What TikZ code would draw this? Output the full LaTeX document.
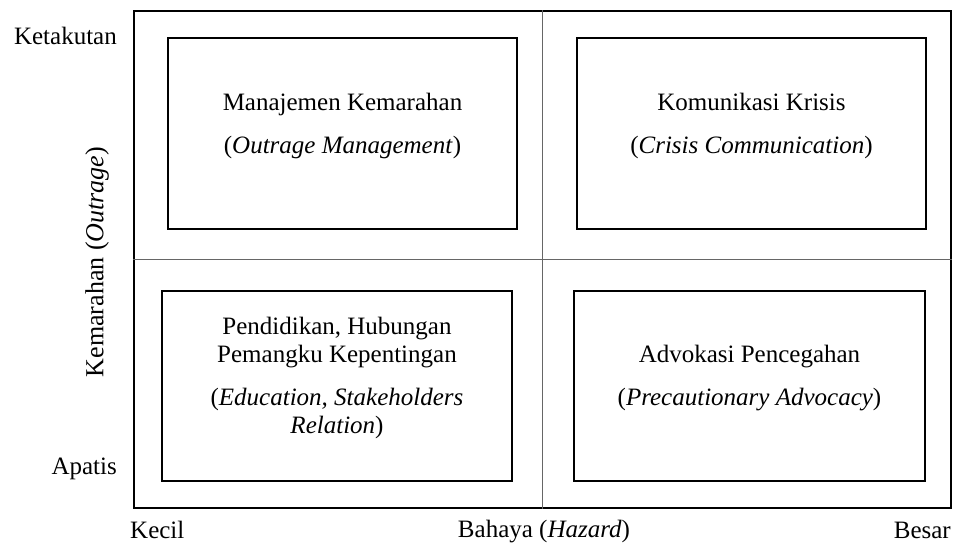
\documentclass[tikz,border=0pt]{standalone}
\usepackage{fontspec}
\setmainfont{Liberation Serif}

\begin{document}
\begin{tikzpicture}[x=1pt, y=-1pt,
      every node/.style = {inner sep=0pt, font=\fontsize{25}{28}\selectfont},
      frame/.style = {draw, line width=1.8pt},
      quad/.style = {draw, line width=1.8pt},
      quadtext/.style = {align=center, yshift=8pt},
      divider/.style = {draw=black!60, line width=0.9pt}]
    \useasboundingbox (0,0) rectangle (954,544);
    \node[frame, minimum width=817pt, minimum height=497pt] (frame) at (542.5,259.5) {};
    \draw[divider] (frame.north) -- (frame.south);
    \draw[divider] (frame.west) -- (frame.east);
    \node[quad, minimum width=349pt, minimum height=191pt] (manage) at (342.5,133.5) {};
    \node[quad, minimum width=349pt, minimum height=191pt] (crisis) at (751.5,133.5) {};
    \node[quad, minimum width=350pt, minimum height=190pt] (educate) at (337,386) {};
    \node[quad, minimum width=351pt, minimum height=190pt] (advocate) at (749.5,386) {};
    \node[quadtext] (managetxt) at (manage.center)
      {Manajemen Kemarahan\\[15pt](\textit{Outrage Management})};
    \node[quadtext] (crisistxt) at (crisis.center)
      {Komunikasi Krisis\\[15pt](\textit{Crisis Communication})};
    \node[quadtext] (educatetxt) at (educate.center)
      {Pendidikan, Hubungan\\Pemangku Kepentingan\\[15pt](\textit{Education, Stakeholders}\\\textit{Relation})};
    \node[quadtext] (advocatetxt) at (advocate.center)
      {Advokasi Pencegahan\\[15pt](\textit{Precautionary Advocacy})};
    \node[anchor=base east] (fear) at (117,44) {Ketakutan};
    \node[anchor=base east] (apathy) at (117,474) {Apatis};
    \node[rotate=90, font=\fontsize{26}{29}\selectfont] (outrage) at (97,262) {Kemarahan (\textit{Outrage})};
    \node[anchor=base west] (small) at (130,538) {Kecil};
    \node[anchor=base] (hazard) at (544,537) {Bahaya (\textit{Hazard})};
    \node[anchor=base east] (large) at (951,538) {Besar};
  \end{tikzpicture}
\end{document}
